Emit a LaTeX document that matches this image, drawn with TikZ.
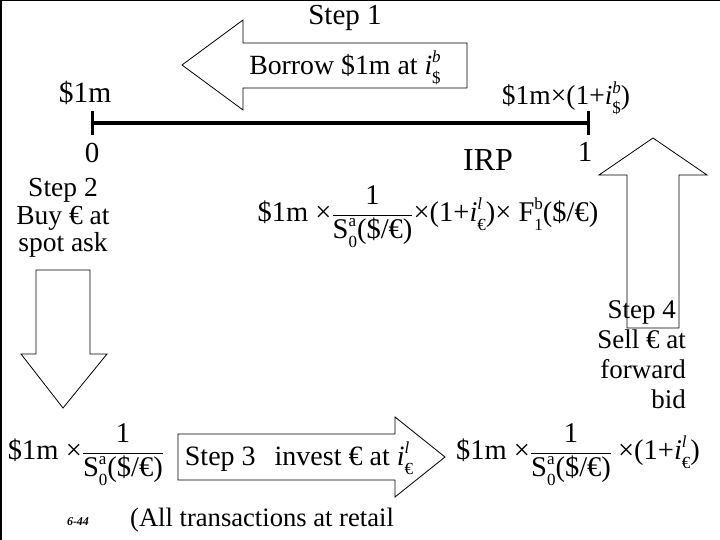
\documentclass[tikz,border=0pt]{standalone}
\usepackage{fontspec}
\setmainfont{Liberation Serif}
\newcommand\sps[2]{\mbox{\rlap{\raisebox{.42em}{\fontsize{17}{17}\selectfont#1}}\raisebox{-.32em}{\fontsize{17}{17}\selectfont#2}}}
\newcommand\frc[2]{$\displaystyle\frac{\mbox{#1}}{\mbox{#2}}$}
\begin{document}
\begin{tikzpicture}[x=1pt,y=-1pt,
  txt/.style={font=\fontsize{28.5}{30}\selectfont, inner sep=0pt},
  arr/.style={draw=black, line width=0.8pt, fill=white, line join=miter}]
\useasboundingbox (0,0) rectangle (720,540);
\fill (0,0) rectangle (720,1.5);
\fill (0,0) rectangle (2,540);
% block arrows
\draw[arr] (182,65) -- (243,20) -- (243,43) -- (467,43) -- (467,88) -- (243,88) -- (243,110) -- cycle;
\draw[arr] (36,270) -- (90,270) -- (90,354) -- (107,354) -- (63,408) -- (21,354) -- (36,354) -- cycle;
\draw[arr] (653,138) -- (707,175) -- (679,175) -- (679,328) -- (627,328) -- (627,175) -- (599,175) -- cycle;
\draw[arr] (178,434) -- (395,434) -- (395,417) -- (445,457) -- (395,497) -- (395,480) -- (178,480) -- cycle;
% timeline
\coordinate (t0) at (92,123);
\coordinate (t1) at (588,123);
\draw[line width=3.5pt] (t0) -- (t1);
\draw[line width=3pt] ([yshift=12pt]t0) -- ([yshift=-12pt]t0);
\draw[line width=3pt] ([yshift=12pt]t1) -- ([yshift=-12pt]t1);
% texts
\node[txt, font=\fontsize{29}{30}\selectfont] (s1) at (345,18) {Step 1};
\node[txt, font=\fontsize{27.8}{30}\selectfont] (borrow) at (345,68) {Borrow \$1m at \textit{i}\sps{\textit{b}}{\$}};
\node[txt, font=\fontsize{27.5}{30}\selectfont] (top1) at (566,98) {\$1m×(1+\textit{i}\sps{\textit{b}}{\$})};
\node[txt, font=\fontsize{29.5}{30}\selectfont] (m0) at (85,93) {\$1m};
\node[txt, font=\fontsize{29}{30}\selectfont] (l0) at (92,153) {0};
\node[txt, font=\fontsize{29}{30}\selectfont] (l1) at (585,152) {1};
\node[txt, font=\fontsize{32}{34}\selectfont] (irp) at (488,160) {IRP};
\node[txt, align=center, font=\fontsize{27.5}{27.5}\selectfont] (s2) at (63,218) {Step 2\\Buy € at\\spot ask};
\node[txt, align=right, font=\fontsize{27}{30}\selectfont, anchor=east] (s4) at (686,355) {Step 4\kern10pt\\Sell € at\\forward\\bid};
\node[txt] (mid) at (428,217) {\$1m ×\frc{1}{S\sps{a}{0}(\$/€)}×(1+\textit{i}\sps{\textit{l}}{€})× F\sps{b}{1}(\$/€)};
\node[txt, font=\fontsize{28}{30}\selectfont] (s3) at (299,458) {Step 3\hspace{12pt} invest € at \textit{i}\sps{\textit{l}}{€}};
\node[txt] (bl) at (86,455) {\$1m ×\frc{1}{S\sps{a}{0}(\$/€)}};
\node[txt] (br) at (578,455) {\$1m ×\frc{1}{S\sps{a}{0}(\$/€)}\hspace{6pt}×(1+\textit{i}\sps{\textit{l}}{€})};
\node[font=\fontsize{12}{12}\selectfont\bfseries\itshape, inner sep=0pt] (pg) at (78,522) {6-44};
\node[txt, font=\fontsize{26.6}{28}\selectfont] (retail) at (262,520) {(All transactions at retail};
\end{tikzpicture}
\end{document}
